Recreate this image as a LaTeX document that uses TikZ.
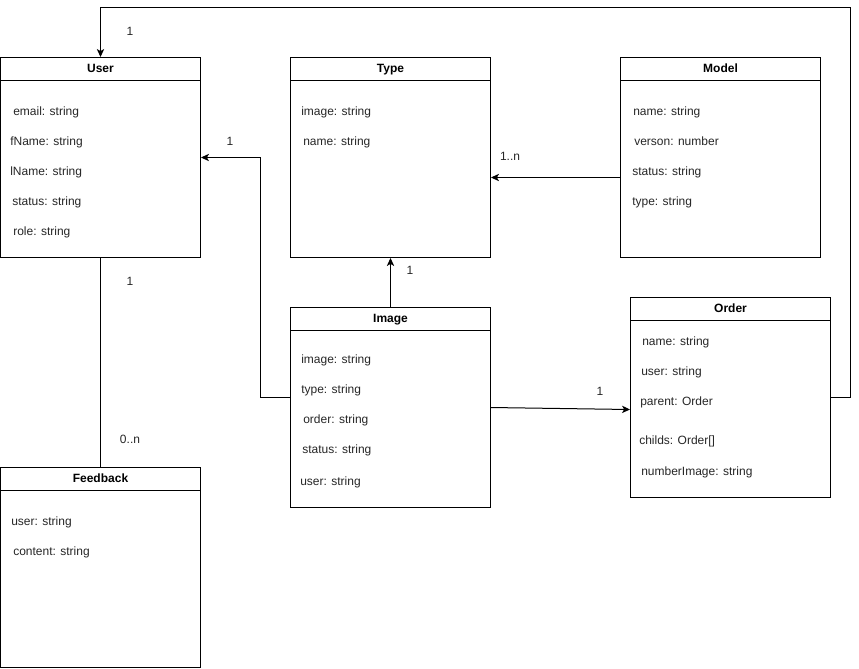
\documentclass[tikz,border=0pt]{standalone}
\usepackage{fontspec}
\setmainfont{Liberation Sans}
\usetikzlibrary{calc,arrows.meta}
\begin{document}
\begin{tikzpicture}[x=0.75pt,y=-0.75pt,
  every node/.style={font=\fontsize{9}{11}\selectfont, text=black!85},
  cls/.style={draw, line width=0.75pt, minimum width=150pt, minimum height=150pt, anchor=north west, inner sep=0pt},
  hdr/.style={font=\fontsize{9}{11}\selectfont\bfseries, text=black, text height=6.6pt, text depth=2pt, inner sep=0pt},
  attr/.style={anchor=west, inner sep=0pt, text height=6.6pt, text depth=2pt},
  mult/.style={inner sep=0pt, text height=6.6pt, text depth=2pt},
  link/.style={line width=0.75pt},
  arr/.style={link, -{Stealth[length=6pt,width=5.5pt,inset=1.6pt]}}]
\useasboundingbox (0,0) rectangle (859,668);

% class boxes
\node[cls] (user) at (0,57) {};
\node[cls] (type) at (290,57) {};
\node[cls] (model) at (620,57) {};
\node[cls] (image) at (290,307) {};
\node[cls] (order) at (630,297) {};
\node[cls] (feedback) at (0,467) {};

% header separators and titles
\foreach \c/\t in {user/User, type/Type, model/Model, image/Image, order/Order, feedback/Feedback}{
  \draw[line width=0.75pt] ($(\c.north west)+(0,23)$) -- ($(\c.north east)+(0,23)$);
  \node[hdr] (\c-title) at ($(\c.north)+(0,12)$) {\t};
}

% User attributes
\node[attr] (u1) at (13,112) {email: string};
\node[attr] (u2) at (10,142) {fName: string};
\node[attr] (u3) at (10,172) {lName: string};
\node[attr] (u4) at (12,202) {status: string};
\node[attr] (u5) at (13,232) {role: string};

% Type attributes
\node[attr] (t1) at (301,112) {image: string};
\node[attr] (t2) at (303,142) {name: string};

% Model attributes
\node[attr] (m1) at (633,112) {name: string};
\node[attr] (m2) at (634,142) {verson: number};
\node[attr] (m3) at (632,172) {status: string};
\node[attr] (m4) at (632,202) {type: string};

% Image attributes
\node[attr] (i1) at (301,360) {image: string};
\node[attr] (i2) at (301,390) {type: string};
\node[attr] (i3) at (303,420) {order: string};
\node[attr] (i4) at (302,450) {status: string};
\node[attr] (i5) at (300,482) {user: string};

% Order attributes
\node[attr] (o1) at (642,342) {name: string};
\node[attr] (o2) at (641,372) {user: string};
\node[attr] (o3) at (640,402) {parent: Order};
\node[attr] (o4) at (639,441) {childs: Order[]};
\node[attr] (o5) at (641,472) {numberImage: string};

% Feedback attributes
\node[attr] (f1) at (11,522) {user: string};
\node[attr] (f2) at (13,552) {content: string};

% associations
\coordinate (loopTop) at (850,7);
\draw[arr] (order.east) -| (loopTop) -| (user.north);
\draw[arr] ($(image.west)+(0,-10)$) -- ++(-30,0) |- (user.east);
\draw[arr] ($(model.west)+(0,20)$) coordinate (mt) -- (mt -| type.east);
\draw[arr] (image.north) -- (type.south);
\draw[arr] (image.east) -- ($(order.west)+(0,12)$);
\draw[link] (user.south) -- (feedback.north);

% multiplicities
\node[mult] (n1) at (130,32) {1};
\node[mult] (n2) at (230,142) {1};
\node[mult] (n3) at (510,157) {1..n};
\node[mult] (n4) at (410,271) {1};
\node[mult] (n5) at (600,392) {1};
\node[mult] (n6) at (130,282) {1};
\node[mult] (n7) at (130,440) {0..n};
\end{tikzpicture}
\end{document}
